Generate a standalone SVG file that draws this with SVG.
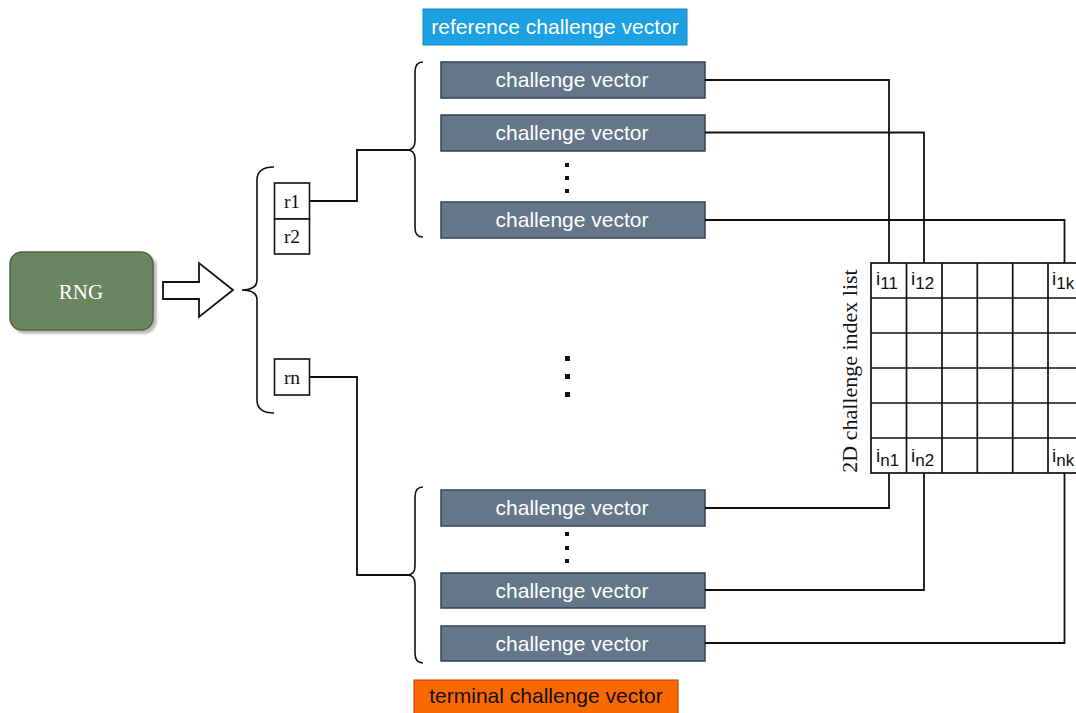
<svg xmlns="http://www.w3.org/2000/svg" width="1076" height="713" viewBox="0 0 1076 713">
<defs>
<filter id="sh" x="-10%" y="-10%" width="130%" height="130%"><feDropShadow dx="3" dy="3" stdDeviation="1" flood-color="#999" flood-opacity="0.7"/></filter>
</defs>
<style>
.cv rect{fill:#647687;stroke:#314354;stroke-width:1.5}
.cv text{fill:#fff;font-family:"Liberation Sans",Arial,sans-serif;font-size:21px;text-anchor:middle}
.ln{fill:none;stroke:#111;stroke-width:1.8}
.br{fill:none;stroke:#111;stroke-width:1.6}
.rb rect{fill:#fff;stroke:#111;stroke-width:1.6}
.rb text{font-family:"Liberation Serif","Times New Roman",serif;font-size:19.5px;text-anchor:middle;fill:#111}
.gl{fill:none;stroke:#111;stroke-width:1.7}
.gt{font-family:"Liberation Sans",Arial,sans-serif;font-size:19px;fill:#111}
.dot{fill:#111}
</style>
<rect width="1076" height="713" fill="#fff"/>

<g id="rng">
<rect x="10" y="252" width="143" height="78" rx="12" fill="#6b8560" stroke="#4a6640" stroke-width="1.5" filter="url(#sh)"/>
<text x="81" y="299" font-family="Liberation Serif,'Times New Roman',serif" font-size="21" fill="#fff" text-anchor="middle">RNG</text>
</g>

<g id="arrow">
<path d="M163,282 L199,282 L199,263 L233,290 L199,317 L199,299 L163,299 Z" fill="#fff" stroke="#111" stroke-width="1.8"/>
</g>

<g id="brackets">
<path class="br" d="M274,167 Q257,167 257,180 L257,280 Q257,290 242,290 Q257,290 257,300 L257,400 Q257,413 274,413"/>
<path class="br" d="M423,62 Q415,62 415,72 L415,141 Q415,150 407,150 Q415,150 415,159 L415,228 Q415,237 423,237"/>
<path class="br" d="M423,487 Q415,487 415,497 L415,566 Q415,575 407,575 Q415,575 415,584 L415,653 Q415,663 423,663"/>
</g>

<g id="r1" class="rb"><rect x="274.5" y="183" width="35" height="36"/><text x="292" y="208">r1</text></g>
<g id="r2" class="rb"><rect x="274.5" y="219" width="35" height="35"/><text x="292" y="243">r2</text></g>
<g id="rn" class="rb"><rect x="274.5" y="359" width="35" height="36"/><text x="292" y="384">rn</text></g>

<g id="refLabel">
<rect x="423" y="9" width="264" height="36" fill="#1ba1e2" stroke="#1786c4" stroke-width="1"/>
<text x="555" y="34" fill="#fff" font-family="Liberation Sans,Arial,sans-serif" font-size="21" text-anchor="middle">reference challenge vector</text>
</g>

<g id="cv1" class="cv"><rect x="441" y="62" width="264" height="36"/><text x="572" y="87">challenge vector</text></g>
<g id="cv2" class="cv"><rect x="441" y="115" width="264" height="36"/><text x="572" y="140">challenge vector</text></g>
<g id="cv3" class="cv"><rect x="441" y="202" width="264" height="36"/><text x="572" y="227">challenge vector</text></g>
<g id="cv4" class="cv"><rect x="441" y="490" width="264" height="36"/><text x="572" y="515">challenge vector</text></g>
<g id="cv5" class="cv"><rect x="441" y="573" width="264" height="35"/><text x="572" y="598">challenge vector</text></g>
<g id="cv6" class="cv"><rect x="441" y="626" width="264" height="35"/><text x="572" y="651">challenge vector</text></g>

<g id="termLabel">
<rect x="414" y="680" width="264" height="40" fill="#fa6800" stroke="#c73500" stroke-width="1"/>
<text x="546" y="703" fill="#111" font-family="Liberation Sans,Arial,sans-serif" font-size="21" text-anchor="middle">terminal challenge vector</text>
</g>

<g id="dots">
<rect class="dot" x="565" y="163" width="4" height="4"/>
<rect class="dot" x="565" y="176" width="4" height="4"/>
<rect class="dot" x="565" y="189" width="4" height="4"/>
<rect class="dot" x="565" y="532" width="4" height="4"/>
<rect class="dot" x="565" y="546" width="4" height="4"/>
<rect class="dot" x="565" y="559" width="4" height="4"/>
<rect class="dot" x="565" y="356" width="5" height="5"/>
<rect class="dot" x="565" y="374" width="5" height="5"/>
<rect class="dot" x="565" y="392" width="5" height="5"/>
</g>

<g id="grid">
<text transform="translate(857,371) rotate(-90)" font-family="Liberation Serif,'Times New Roman',serif" font-size="22" fill="#111" text-anchor="middle">2D challenge index list</text>
<rect class="gl" x="871" y="263" width="215" height="210"/>
<path class="gl" d="M906.5,263V473M942,263V473M977.3,263V473M1012.7,263V473M1048,263V473M871,298H1086M871,333H1086M871,368H1086M871,403H1086M871,438H1086"/>
<text class="gt" x="876" y="285">i<tspan font-size="17" dy="4">11</tspan></text>
<text class="gt" x="911" y="285">i<tspan font-size="17" dy="4">12</tspan></text>
<text class="gt" x="1052" y="285">i<tspan font-size="17" dy="4">1k</tspan></text>
<text class="gt" x="876" y="462">i<tspan font-size="17" dy="4">n1</tspan></text>
<text class="gt" x="911" y="462">i<tspan font-size="17" dy="4">n2</tspan></text>
<text class="gt" x="1052" y="462">i<tspan font-size="17" dy="4">nk</tspan></text>
</g>

<g id="connectors">
<path class="ln" d="M309.5,201H357V150H408"/>
<path class="ln" d="M309.5,377H357V575H408"/>
<path class="ln" d="M705,80H889V263"/>
<path class="ln" d="M705,132.5H924V263"/>
<path class="ln" d="M705,220H1064.5V263"/>
<path class="ln" d="M705,508H889V473"/>
<path class="ln" d="M705,590H924V473"/>
<path class="ln" d="M705,643H1064.5V473"/>
</g>
</svg>
